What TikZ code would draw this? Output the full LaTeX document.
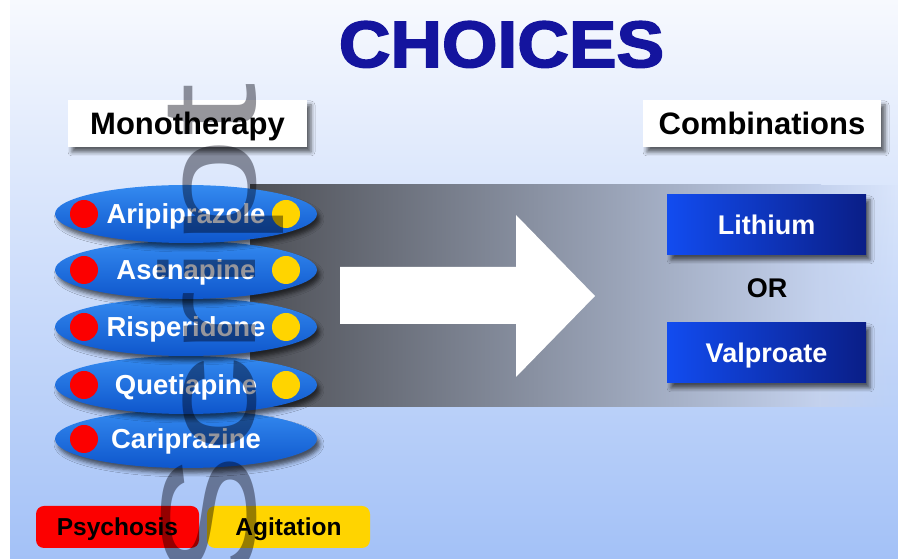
\documentclass[tikz,border=0pt]{standalone}
\usepackage{fontspec}
\setmainfont{Liberation Sans}
\newfontfamily\headfont{Liberation Sans}[BoldFeatures={FakeBold=2.5}]
\usetikzlibrary{shapes.geometric,shadows.blur,fadings}

\definecolor{bgtop}{RGB}{247,249,254}
\definecolor{bgbot}{RGB}{163,193,247}
\definecolor{bandleft}{RGB}{78,80,86}
\definecolor{bandright}{RGB}{196,210,238}
\definecolor{titleblue}{RGB}{20,20,158}
\definecolor{pilltop}{RGB}{52,138,240}
\definecolor{pillbot}{RGB}{14,86,204}
\definecolor{dotred}{RGB}{252,0,0}
\definecolor{dotyellow}{RGB}{255,212,0}
\definecolor{boxleft}{RGB}{18,76,240}
\definecolor{boxright}{RGB}{10,30,135}
\definecolor{markgray}{RGB}{150,150,156}

\tikzfading[name=bandfade, left color=transparent!0, right color=transparent!100]

\tikzset{
  pill/.style={ellipse, minimum width=262pt, minimum height=58pt, inner sep=0pt,
    top color=pilltop, bottom color=pillbot, text=white,
    font=\bfseries\fontsize{27.5}{30}\selectfont, text height=19.8pt, text depth=0pt,
    blur shadow={shadow xshift=3pt, shadow yshift=-5pt, shadow blur radius=4pt, shadow opacity=60}},
  reddot/.style={circle, fill=dotred, minimum size=28pt, inner sep=0pt},
  yellowdot/.style={circle, fill=dotyellow, minimum size=28pt, inner sep=0pt},
  headbox/.style={rectangle, fill=white, minimum width=239pt, minimum height=47pt, inner sep=0pt,
    font=\bfseries\fontsize{31}{34}\selectfont, text height=22.3pt, text depth=0pt,
    blur shadow={shadow xshift=4pt, shadow yshift=-5pt, shadow blur radius=4pt, shadow opacity=60}},
  drugbox/.style={rectangle, left color=boxleft, right color=boxright, text=white,
    minimum width=199pt, minimum height=60pt, inner sep=0pt,
    font=\bfseries\fontsize{27}{30}\selectfont, text height=19.4pt, text depth=0pt,
    blur shadow={shadow xshift=4pt, shadow yshift=-5pt, shadow blur radius=4pt, shadow opacity=60}},
  legendbox/.style={rectangle, rounded corners=8pt, minimum width=163pt, minimum height=42pt,
    inner sep=0pt, font=\bfseries\fontsize{24.5}{27}\selectfont, text height=17.6pt, text depth=0pt},
}

\begin{document}
\begin{tikzpicture}[x=1pt, y=1pt]
\useasboundingbox (0,0) rectangle (898,559);

% background
\fill[white] (0,0) rectangle (898,559);
\shade[top color=bgtop, bottom color=bgbot] (10,0) rectangle (898,559);

% grey band behind the arrow
\shade[left color=bandleft, right color=bandright] (250,152) rectangle (821,374);
\fill[bandright, path fading=bandfade] (820,152) rectangle (898,374);

% white arrow
\fill[white] (340,235) -- (340,292) -- (516,292) -- (516,344) -- (595,263)
  -- (516,182) -- (516,235) -- cycle;

% title
\node[font=\headfont\bfseries\fontsize{65.5}{70}\selectfont, text=titleblue, anchor=base,
  inner sep=0pt] (title) at (501.5,492) {\scalebox{1.09}[1]{CHOICES}};

% column headings
\node[headbox] (mono) at (187.5,435.5) {Monotherapy};
\node[headbox, minimum width=238pt] (comb) at (762,435.5) {Combinations};

% monotherapy options, drawn from the bottom up
\node[pill] (cari) at (186,120) {Cariprazine};
\node[reddot] (cari-r) at ([xshift=-102pt]cari.center) {};

\node[pill] (quet) at (186,174) {Quetiapine};
\node[reddot] (quet-r) at ([xshift=-102pt]quet.center) {};
\node[yellowdot] (quet-y) at ([xshift=100pt]quet.center) {};

\node[pill] (risp) at (186,232) {Risperidone};
\node[reddot] (risp-r) at ([xshift=-102pt]risp.center) {};
\node[yellowdot] (risp-y) at ([xshift=100pt]risp.center) {};

\node[pill] (asen) at (186,289) {Asenapine};
\node[reddot] (asen-r) at ([xshift=-102pt]asen.center) {};
\node[yellowdot] (asen-y) at ([xshift=100pt]asen.center) {};

\node[pill] (arip) at (186,345) {Aripiprazole};
\node[reddot] (arip-r) at ([xshift=-102pt]arip.center) {};
\node[yellowdot] (arip-y) at ([xshift=100pt]arip.center) {};

% combination partners
\node[drugbox] (lith) at (766.5,334) {Lithium};
\node[font=\bfseries\fontsize{27}{30}\selectfont, text height=19.4pt, text depth=0pt,
  inner sep=0pt] (or) at (767,271) {OR};
\node[drugbox] (valp) at (766.5,206) {Valproate};

% legend
\node[legendbox, fill=dotred] (psy) at (117.5,32) {Psychosis};
\node[legendbox, fill=dotyellow] (agi) at (288.5,32) {Agitation};

% vertical mark
\begin{scope}[blend mode=multiply]
\node[rotate=90, anchor=base west, inner sep=0pt, text=markgray,
  font=\fontsize{135}{135}\selectfont] (mark) at (255,-25) {\scalebox{1.45}[1]{Script}};
\end{scope}
\end{tikzpicture}
\end{document}
